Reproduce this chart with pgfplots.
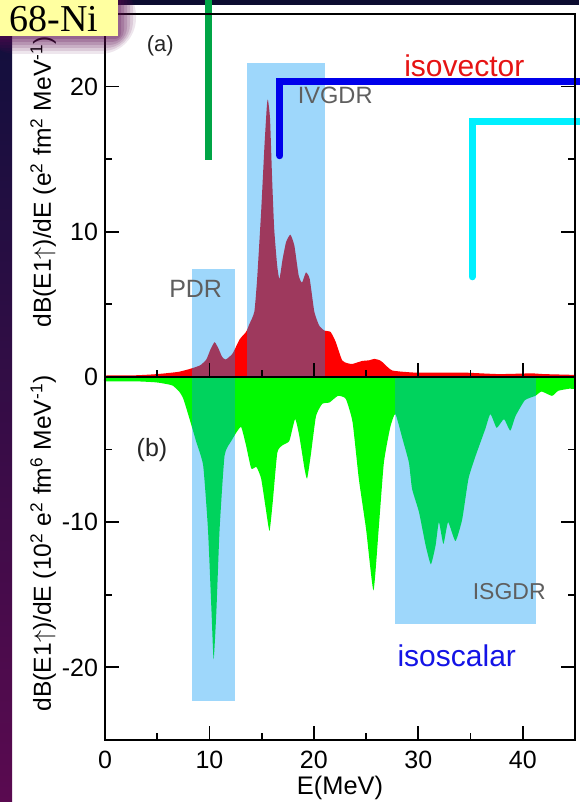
\documentclass[border=0pt]{standalone}
\usepackage{fontspec}
\setmainfont{Liberation Sans}
\newfontfamily\seriffont{Liberation Serif}
\usepackage{pgfplots}
\pgfplotsset{compat=1.18}
\definecolor{rectblue}{RGB}{0,150,245}
\definecolor{ivred}{RGB}{255,0,0}
\definecolor{isgreen}{RGB}{0,250,0}
\definecolor{lblgray}{RGB}{95,95,95}
\definecolor{ovgreen}{RGB}{0,165,70}
\definecolor{ovblue}{RGB}{0,0,235}
\definecolor{ovcyan}{RGB}{0,240,255}
\definecolor{boxyellow}{RGB}{255,255,160}
\definecolor{navy}{RGB}{15,15,60}
\definecolor{plum}{RGB}{90,10,80}
\definecolor{txtred}{RGB}{230,20,20}
\definecolor{txtblue}{RGB}{20,20,230}

\pgfplotstableread{
E y
0 0
0 0.1
3 0.12
5 0.2
7 0.35
8.1 0.55
9.1 0.8
9.7 1.2
10.1 1.9
10.5 2.4
10.9 1.9
11.2 1.4
11.55 1.2
12.2 1.6
12.9 2.6
13.5 3.1
13.8 3.6
14.3 4.5
14.57 6.8
14.95 11.4
15.27 15.95
15.5 18.7
15.6 19.1
15.8 17.8
16.0 13.65
16.2 10.2
16.48 7.7
16.7 6.75
17.0 8.1
17.34 9.3
17.75 9.8
18.13 9.05
18.54 7.0
18.86 6.5
19.24 7.2
19.6 6.75
20.04 4.5
20.5 3.55
21.0 3.2
21.6 3.1
22.1 2.4
22.7 1.15
23.2 0.95
23.7 0.9
24.6 1.1
25.3 1.15
25.8 1.25
26.3 1.15
26.6 1.0
27.5 0.45
29.7 0.3
32 0.3
34.5 0.3
37.7 0.2
40.8 0.25
42 0.2
44.7 0.15
45 0.15
45 0
}\isovector

\pgfplotstableread{
E y
0 0
0 -0.3
3 -0.3
4.9 -0.37
6.0 -0.5
6.5 -0.6
7.1 -1.0
7.5 -1.5
8.1 -2.9
8.75 -4.5
9.4 -6.1
9.86 -10.5
10.2 -16.2
10.4 -19.45
10.66 -16.2
10.97 -10.5
11.45 -5.4
12.1 -4.4
12.6 -3.8
13.04 -3.45
13.5 -4.7
14.0 -6.3
14.5 -6.2
14.95 -7.0
15.4 -9.1
15.75 -10.6
16.06 -8.6
16.5 -5.2
17.0 -4.7
17.65 -4.4
18.2 -2.9
18.6 -4.05
19.1 -6.3
19.35 -7.0
19.7 -5.4
20.2 -2.7
20.8 -1.85
21.5 -1.75
22.3 -1.3
23.05 -1.5
23.7 -3.1
24.3 -7.0
25.0 -10.5
25.7 -14.7
26.2 -10.5
26.7 -5.9
27.3 -3.5
27.8 -2.55
28.5 -4.3
29.1 -5.9
29.4 -7.7
30.06 -9.3
30.7 -11.6
31.2 -12.9
31.65 -11.6
31.97 -10.0
32.4 -11.5
32.85 -10.0
33.55 -11.3
34.2 -9.8
34.8 -7.0
35.5 -5.4
36.4 -3.6
36.9 -2.55
37.5 -3.5
38.2 -2.9
38.8 -3.7
39.3 -2.7
40.2 -1.6
41.2 -1.3
41.8 -1.0
42.8 -1.3
43.4 -0.95
44.5 -0.8
45 -0.8
45 0
}\isoscalar

\begin{document}
\begin{tikzpicture}
\useasboundingbox (0,0) rectangle (289.5pt,401pt);
\fill[white] (0,0) rectangle (289.5pt,401pt);
\begin{scope}[shift={(0,401pt)},x=0.5pt,y=-0.5pt]
  \shade[top color=navy, bottom color=plum] (0,0) rectangle (12,802);
  \fill[navy!80!black] (110,0) rectangle (579,5);
\end{scope}
\begin{axis}[
  at={(52.5pt,31pt)}, anchor=south west,
  width=235pt, height=363pt, scale only axis,
  xmin=0, xmax=45, ymin=-25, ymax=25,
  xtick={0,10,20,30,40}, minor xtick={5,15,25,35},
  ytick={-20,-10,0,10,20}, minor ytick={-15,-5,5,15},
  tick align=inside, xtick pos=left, ytick pos=both,
  major tick length=7pt, minor tick length=3.5pt,
  axis line style={line width=1pt},
  every tick/.style={black, line width=0.9pt},
  tick label style={font=\fontsize{12.5}{14}\selectfont},
  xticklabel style={yshift=-2pt},
  /pgf/number format/assume math mode=true,
  xlabel={E(MeV)},
  xlabel style={font=\fontsize{12.7}{14}\selectfont, yshift=3pt},
  clip=false, axis on top,
]
% curves
\addplot[fill=ivred, draw=none, smooth, tension=0.3] table[x=E,y=y] {\isovector};
\addplot[fill=isgreen, draw=none, smooth, tension=0.3] table[x=E,y=y] {\isoscalar};
% shaded regions
\addplot[fill=rectblue, fill opacity=0.38, draw=none] coordinates {(8.3,-22.3) (12.45,-22.3) (12.45,7.45) (8.3,7.45)};
\addplot[fill=rectblue, fill opacity=0.38, draw=none] coordinates {(13.6,0) (21.1,0) (21.1,21.6) (13.6,21.6)};
\addplot[fill=rectblue, fill opacity=0.38, draw=none] coordinates {(27.8,-17) (41.25,-17) (41.25,0) (27.8,0)};
% zero line and its ticks
\addplot[black, line width=1.1pt] coordinates {(0,0) (45,0)};
\addplot[black, line width=0.9pt] coordinates {(5,0) (5,0.48)};
\addplot[black, line width=0.9pt] coordinates {(10,0) (10,0.97)};
\addplot[black, line width=0.9pt] coordinates {(15,0) (15,0.48)};
\addplot[black, line width=0.9pt] coordinates {(20,0) (20,0.97)};
\addplot[black, line width=0.9pt] coordinates {(25,0) (25,0.48)};
\addplot[black, line width=0.9pt] coordinates {(30,0) (30,0.97)};
\addplot[black, line width=0.9pt] coordinates {(35,0) (35,0.48)};
\addplot[black, line width=0.9pt] coordinates {(40,0) (40,0.97)};
% overlay lines
\addplot[ovgreen, line width=3.5pt] coordinates {(9.87,26.3) (9.87,14.97)};
\addplot[ovblue, line width=3.5pt, line cap=round, line join=miter] coordinates {(16.75,15.24) (16.75,20.34) (45.6,20.34)};
\addplot[ovcyan, line width=3.5pt, line cap=round, line join=miter] coordinates {(35.16,6.9) (35.16,17.6) (45.6,17.6)};
% texts
\node[font=\fontsize{11}{13}\selectfont, text=black!85] at (axis cs:5.3,22.8) {(a)};
\node[font=\fontsize{12.5}{14}\selectfont, text=black!85] at (axis cs:4.5,-5.0) {(b)};
\node[font=\fontsize{11.8}{13}\selectfont, text=lblgray] at (axis cs:22.04,19.38) {IVGDR};
\node[font=\fontsize{12.5}{14}\selectfont, text=lblgray] at (axis cs:8.68,6.07) {PDR};
\node[font=\fontsize{11.5}{13}\selectfont, text=lblgray] at (axis cs:38.7,-14.8) {ISGDR};
\node[font=\fontsize{15}{17}\selectfont, text=txtred] at (axis cs:34.4,21.4) {isovector};
\node[font=\fontsize{15}{17}\selectfont, text=txtblue] at (axis cs:33.68,-19.17) {isoscalar};
\node[rotate=90, font=\fontsize{12.3}{14}\selectfont] at (axis cs:-5.92,13.45) {dB(E1$\uparrow$)/dE (e\textsuperscript{2} fm\textsuperscript{2} MeV\textsuperscript{-1})};
\node[rotate=90, font=\fontsize{12.3}{14}\selectfont] at (axis cs:-5.92,-11.45) {dB(E1$\uparrow$)/dE (10\textsuperscript{2} e\textsuperscript{2} fm\textsuperscript{6} MeV\textsuperscript{-1})};
\end{axis}
\begin{scope}[shift={(0,401pt)},x=0.5pt,y=-0.5pt]
  \foreach \d/\o in {18/0.10,15/0.12,12/0.14,9/0.16,6/0.18,3/0.2} {
    \fill[plum, opacity=\o, rounded corners=\d] (-20,-20) rectangle (118+\d,36+\d);
  }
  \fill[boxyellow] (0,-2) rectangle (118,36);
  \node[anchor=base west, inner sep=0pt, font=\seriffont\fontsize{19}{21}\selectfont] at (9,32) {68-Ni};
\end{scope}
\end{tikzpicture}
\end{document}
